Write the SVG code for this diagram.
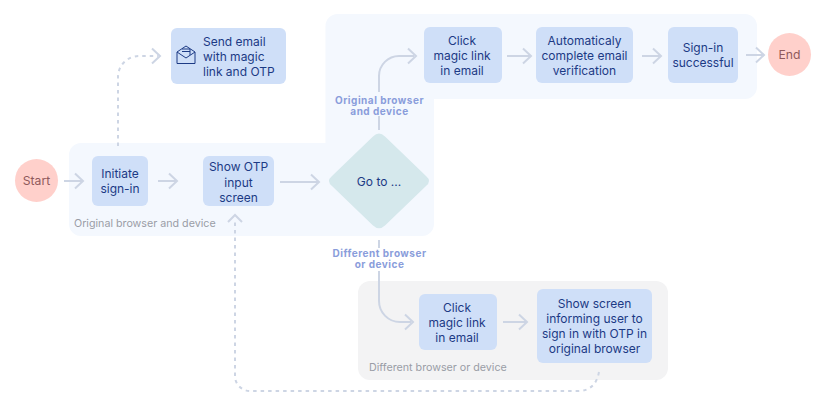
<svg xmlns="http://www.w3.org/2000/svg" width="821" height="405" viewBox="0 0 821 405">
<style>
text{font-family:"Inter","Liberation Sans",sans-serif;text-anchor:middle}
.t{font-size:12px;fill:#1c3a85}
.c{font-size:12.200px;fill:#8f5a5c}
.p{font-size:10.700px;fill:#9a9da6;text-anchor:start}
.l{font-size:10px;font-weight:700;fill:#8a9ddb;letter-spacing:.5px}
.box{fill:#cfdff8}
.circ{fill:#ffd0cb}
.ln{fill:none;stroke:#cdd5e4;stroke-width:2}
.ds{fill:none;stroke:#cdd5e4;stroke-width:2;stroke-dasharray:3.500 4}
.hd{fill:none;stroke:#cdd5e4;stroke-width:2}
</style>
<g id="panels">
<path d="M81 143H325.500V26a12 12 0 0 1 12-12H745a12 12 0 0 1 12 12V87a12 12 0 0 1-12 12H434V224a12 12 0 0 1-12 12H81a12 12 0 0 1-12-12V155a12 12 0 0 1 12-12Z" fill="#f4f8fe"/>
<rect x="358" y="281" width="310" height="99" rx="12" fill="#f3f3f4"/>
<text class="p" x="74" y="227">Original browser and device</text>
<text class="p" x="369" y="371">Different browser or device</text>
</g>
<g id="connectors">
<path class="ln" d="M64 181H82"/><path class="hd" d="M75 173.500L83 181L75 188.500"/>
<path class="ln" d="M158 181H176"/><path class="hd" d="M169 173.500L177 181L169 188.500"/>
<path class="ln" d="M280 182H318"/><path class="hd" d="M311 174.500L319 182L311 189.500"/>
<path class="ds" d="M118 146V77a21 21 0 0 1 21-21H158"/><path class="hd" d="M152 48.500L160 56L152 63.500"/>
<path class="ln" d="M379 130V76a20 20 0 0 1 20-20H414"/><path class="hd" d="M408 48.500L416 56L408 63.500"/>
<path class="ln" d="M507 56H530"/><path class="hd" d="M523 48.500L531 56L523 63.500"/>
<path class="ln" d="M642 56H660"/><path class="hd" d="M653 48.500L661 56L653 63.500"/>
<path class="ln" d="M746 55H763"/><path class="hd" d="M756 47.500L764 55L756 62.500"/>
<path class="ln" d="M379 240V301a21 21 0 0 0 21 21H411"/><path class="hd" d="M405 314.500L413 322L405 329.500"/>
<path class="ln" d="M503 322H526"/><path class="hd" d="M519 314.500L527 322L519 329.500"/>
<path class="ds" d="M599 372C597 383 591 391 578 391H250a15 15 0 0 1-15-15V222"/><path class="hd" d="M228 222L235 215L242 222"/>
</g>
<g id="start"><circle class="circ" cx="36.500" cy="180.500" r="21.500"/><text class="c" x="36.500" y="185">Start</text></g>
<g id="initiate"><rect class="box" x="92" y="156" width="56" height="50" rx="6"/><text class="t" x="120" y="177.500">Initiate</text><text class="t" x="120" y="192.500">sign-in</text></g>
<g id="send-email"><rect class="box" x="171" y="28" width="115" height="56" rx="6"/>
<g fill="none" stroke="#1c3a85" stroke-width="1"><path d="M177 52L186 46L195 52V63.500H177Z"/><path d="M177 52L186 58L195 52"/><path d="M182 49H190V55M182 51.500H190"/></g>
<text class="t" x="203" y="45.500" style="text-anchor:start">Send email</text><text class="t" x="203" y="60.500" style="text-anchor:start">with magic</text><text class="t" x="203" y="75.500" style="text-anchor:start">link and OTP</text></g>
<g id="show-otp"><rect class="box" x="203" y="156" width="71" height="50" rx="6"/><text class="t" x="238.500" y="171">Show OTP</text><text class="t" x="238.500" y="186.500">input</text><text class="t" x="238.500" y="201.500">screen</text></g>
<g id="goto"><path d="M373 136.500Q379 130.500 385 136.500L426 176Q432 181 426 186L385 225.500Q379 231 373 225.500L332 186Q326 181 332 176Z" fill="#d5e8ec"/><text class="t" x="379" y="185.500">Go to ...</text></g>
<g id="click-top"><rect class="box" x="424" y="27" width="78" height="56" rx="6"/><text class="t" x="462" y="44.500">Click</text><text class="t" x="462" y="59.500">magic link</text><text class="t" x="462" y="74.500">in email</text></g>
<g id="auto-verify"><rect class="box" x="536" y="27" width="97" height="56" rx="6"/><text class="t" x="584.500" y="44.500">Automaticaly</text><text class="t" x="584.500" y="59.500">complete email</text><text class="t" x="584.500" y="74.500">verification</text></g>
<g id="signin-ok"><rect class="box" x="668" y="27" width="70" height="56" rx="6"/><text class="t" x="703" y="52">Sign-in</text><text class="t" x="703" y="67">successful</text></g>
<g id="end"><circle class="circ" cx="789.500" cy="54.500" r="21.500"/><text class="c" x="789.500" y="59">End</text></g>
<g id="click-bottom"><rect class="box" x="419" y="294" width="78" height="56" rx="6"/><text class="t" x="457" y="311.500">Click</text><text class="t" x="457" y="326.500">magic link</text><text class="t" x="457" y="341.500">in email</text></g>
<g id="show-screen"><rect class="box" x="537" y="289" width="115" height="74" rx="6"/><text class="t" x="594.500" y="308">Show screen</text><text class="t" x="594.500" y="323">informing user to</text><text class="t" x="594.500" y="338">sign in with OTP in</text><text class="t" x="594.500" y="353">original browser</text></g>
<g id="labels">
<rect x="330" y="92" width="98" height="24" fill="#f4f8fe"/>
<text class="l" x="379.500" y="103.500">Original browser</text><text class="l" x="379.500" y="114.500">and device</text>
<rect x="330" y="248" width="98" height="23" fill="#fff"/>
<text class="l" x="379.500" y="257">Different browser</text><text class="l" x="379.500" y="268">or device</text>
</g>
</svg>
